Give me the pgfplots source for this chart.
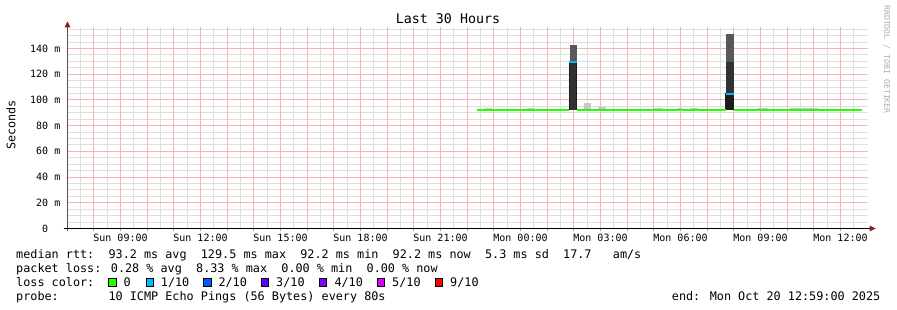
\documentclass[border=0pt]{standalone}
\usepackage{pgfplots}
\pgfplotsset{compat=1.18}
\usepackage{fontspec}
\setmainfont{DejaVu Sans Mono}
\definecolor{mgrid}{RGB}{242,180,180}
\definecolor{mingrid}{RGB}{222,222,222}
\definecolor{tickc}{RGB}{230,130,130}
\definecolor{arrowc}{RGB}{140,30,30}
\definecolor{axisc}{RGB}{80,80,80}
\definecolor{loss0}{RGB}{38,255,0}
\definecolor{loss1}{RGB}{0,184,255}
\definecolor{loss2}{RGB}{0,89,255}
\definecolor{loss3}{RGB}{94,0,255}
\definecolor{loss4}{RGB}{126,0,255}
\definecolor{loss5}{RGB}{221,0,255}
\definecolor{loss9}{RGB}{255,0,0}
\definecolor{smokelight}{RGB}{200,200,200}
\definecolor{smokemid}{RGB}{88,88,88}
\definecolor{smokedark}{RGB}{50,50,50}
\definecolor{smokeblack}{RGB}{28,28,28}
\definecolor{wmark}{RGB}{175,175,175}
\tikzset{mingridline/.style={draw=mingrid, line width=1pt},
         majgridline/.style={draw=mgrid, line width=1pt}}
\begin{document}
\begin{tikzpicture}[x=1pt,y=1pt]
\path[use as bounding box, fill=white] (0,0) rectangle (897,310);
\begin{axis}[
  at={(67.5pt,81.5pt)}, anchor=south west,
  scale only axis, width=800pt, height=201.2pt,
  xmin=7.0125, xmax=37.0125, ymin=0, ymax=156.5,
  axis line style={draw=none},
  xtick={8,...,36},
  xticklabels={,Sun 09:00,,,Sun 12:00,,,Sun 15:00,,,Sun 18:00,,,Sun 21:00,,,Mon 00:00,,,Mon 03:00,,,Mon 06:00,,,Mon 09:00,,,Mon 12:00},
  ytick={0,20,...,140},
  yticklabels={0\hphantom{mm},20 m,40 m,60 m,80 m,100 m,120 m,140 m},
  tick align=outside,
  xtick pos=bottom, ytick pos=left,
  major tick length=3pt, minor tick length=0pt,
  xtick style={draw=tickc, line width=1pt},
  ytick style={draw=none},
  ticklabel style={font=\fontsize{10}{12}\selectfont},
  xticklabel style={inner sep=0pt, anchor=base, yshift=-10.5pt},
  yticklabel style={inner sep=0pt, anchor=east, xshift=-4pt},
]
% grid
\pgfplotsinvokeforeach{7.5,8.5,...,36.5}{\draw[mingridline] (axis cs:#1,0) -- (axis cs:#1,156.5);}
\pgfplotsinvokeforeach{5,10,15,25,30,35,45,50,55,65,70,75,85,90,95,105,110,115,125,130,135,145,150,155}{\draw[mingridline] (axis cs:7.0125,#1) -- (axis cs:37.0125,#1);}
\pgfplotsinvokeforeach{8,...,36}{\draw[majgridline] (axis cs:#1,0) -- (axis cs:#1,156.5);}
\pgfplotsinvokeforeach{20,40,...,140}{\draw[majgridline] (axis cs:7.0125,#1) -- (axis cs:37.0125,#1);}
% light smoke
\addplot[fill=smokelight, draw=none] coordinates {(22.658,91.8) (22.92,91.8) (22.92,93.6) (22.658,93.6)};
\addplot[fill=smokelight, draw=none] coordinates {(24.233,91.8) (24.496,91.8) (24.496,93.6) (24.233,93.6)};
\addplot[fill=smokelight, draw=none] coordinates {(26.371,91.8) (26.633,91.8) (26.633,97.5) (26.371,97.5)};
\addplot[fill=smokelight, draw=none] coordinates {(26.896,91.8) (27.196,91.8) (27.196,94.3) (26.896,94.3)};
\addplot[fill=smokelight, draw=none] coordinates {(28.958,91.8) (29.333,91.8) (29.333,93.6) (28.958,93.6)};
\addplot[fill=smokelight, draw=none] coordinates {(29.858,91.8) (30.083,91.8) (30.083,93.4) (29.858,93.4)};
\addplot[fill=smokelight, draw=none] coordinates {(30.346,91.8) (30.646,91.8) (30.646,93.4) (30.346,93.4)};
\addplot[fill=smokelight, draw=none] coordinates {(32.858,91.8) (33.271,91.8) (33.271,93.4) (32.858,93.4)};
\addplot[fill=smokelight, draw=none] coordinates {(34.096,91.8) (35.146,91.8) (35.146,93.4) (34.096,93.4)};
\addplot[fill=smokelight, draw=none] coordinates {(35.483,91.8) (36.458,91.8) (36.458,93.2) (35.483,93.2)};
% spike 1
\addplot[fill=smokemid, draw=none] coordinates {(25.846,129.9) (26.108,129.9) (26.108,143.1) (25.846,143.1)};
\addplot[fill=smokeblack, draw=none] coordinates {(25.808,91.8) (26.108,91.8) (26.108,129.9) (25.808,129.9)};
\addplot[fill=smokedark, draw=none] coordinates {(25.846,91.8) (26.070,91.8) (26.070,129.9) (25.846,129.9)};
% spike 2
\addplot[fill=smokemid, draw=none] coordinates {(31.696,129.6) (31.996,129.6) (31.996,150.9) (31.696,150.9)};
\addplot[fill=smokedark, draw=none] coordinates {(31.696,91.8) (31.996,91.8) (31.996,129.6) (31.696,129.6)};
\addplot[fill=smokeblack, draw=none] coordinates {(31.658,91.8) (31.996,91.8) (31.996,105.5) (31.658,105.5)};
% median line, loss 0
\addplot[loss0, line width=2pt] coordinates {(22.358,91.8) (25.808,91.8)};
\addplot[loss0, line width=2pt] coordinates {(26.108,91.8) (31.696,91.8)};
\addplot[loss0, line width=2pt] coordinates {(31.996,91.8) (36.796,91.8)};
% median line, loss 1/10
\addplot[loss1, line width=2pt] coordinates {(25.808,129.3) (26.108,129.3)};
\addplot[loss1, line width=2pt] coordinates {(31.696,104.7) (31.996,104.7)};
\coordinate (O) at (rel axis cs:0,0);
\coordinate (XE) at (rel axis cs:1,0);
\coordinate (YE) at (rel axis cs:0,1);
\end{axis}
% axes with arrows
\draw[axisc, line width=1pt] ([yshift=-3pt]O) -- ([yshift=1pt]YE);
\fill[arrowc] ([xshift=-3pt,yshift=0pt]YE) -- ([yshift=6pt]YE) -- ([xshift=3pt]YE) -- cycle;
\draw[black, line width=1pt] ([xshift=-4pt]O) -- ([xshift=2pt]XE);
\fill[arrowc] ([xshift=2pt,yshift=3pt]XE) -- ([xshift=8pt]XE) -- ([xshift=2pt,yshift=-3pt]XE) -- cycle;
% titles
\node[font=\fontsize{13.3}{16}\selectfont, anchor=base, inner sep=0pt] at (448,286) {Last 30 Hours};
\node[font=\fontsize{11.8}{14}\selectfont, rotate=90, inner sep=0pt] at (11,185) {Seconds};
\node[font=\fontsize{8.2}{9}\selectfont, text=wmark, rotate=-90, anchor=base west, inner sep=0pt] at (884,305) {RRDTOOL / TOBI OETIKER};
% legend text
\begingroup
\fontsize{11.8}{14}\selectfont
\node[anchor=base west, inner sep=0pt] at (16,51.7) {median rtt:~~93.2 ms avg~~129.5 ms max~~92.2 ms min~~92.2 ms now~~5.3 ms sd~~17.7~~~am/s};
\node[anchor=base west, inner sep=0pt] at (16,37.5) {packet loss: 0.28 \% avg~~8.33 \% max~~0.00 \% min~~0.00 \% now};
\node[anchor=base west, inner sep=0pt] at (16,23.3) {loss color:};
\filldraw[fill=loss0, draw=black, line width=1pt] (108.8,23.8) rectangle ++(7.4,7.4);
\node[anchor=base west, inner sep=0pt] at (123.3,23.3) {0};
\filldraw[fill=loss1, draw=black, line width=1pt] (146.2,23.8) rectangle ++(7.4,7.4);
\node[anchor=base west, inner sep=0pt] at (160.7,23.3) {1/10};
\filldraw[fill=loss2, draw=black, line width=1pt] (203.8,23.8) rectangle ++(7.4,7.4);
\node[anchor=base west, inner sep=0pt] at (218.3,23.3) {2/10};
\filldraw[fill=loss3, draw=black, line width=1pt] (261.5,23.8) rectangle ++(7.4,7.4);
\node[anchor=base west, inner sep=0pt] at (276,23.3) {3/10};
\filldraw[fill=loss4, draw=black, line width=1pt] (319.5,23.8) rectangle ++(7.4,7.4);
\node[anchor=base west, inner sep=0pt] at (334.3,23.3) {4/10};
\filldraw[fill=loss5, draw=black, line width=1pt] (377.5,23.8) rectangle ++(7.4,7.4);
\node[anchor=base west, inner sep=0pt] at (392,23.3) {5/10};
\filldraw[fill=loss9, draw=black, line width=1pt] (435.5,23.8) rectangle ++(7.4,7.4);
\node[anchor=base west, inner sep=0pt] at (450,23.3) {9/10};
\node[anchor=base west, inner sep=0pt] at (16,9.1) {probe:~~~~~~~10 ICMP Echo Pings (56 Bytes) every 80s};
\node[anchor=base east, inner sep=0pt] at (880.5,9.1) {end: Mon Oct 20 12:59:00 2025};
\endgroup
\end{tikzpicture}
\end{document}
